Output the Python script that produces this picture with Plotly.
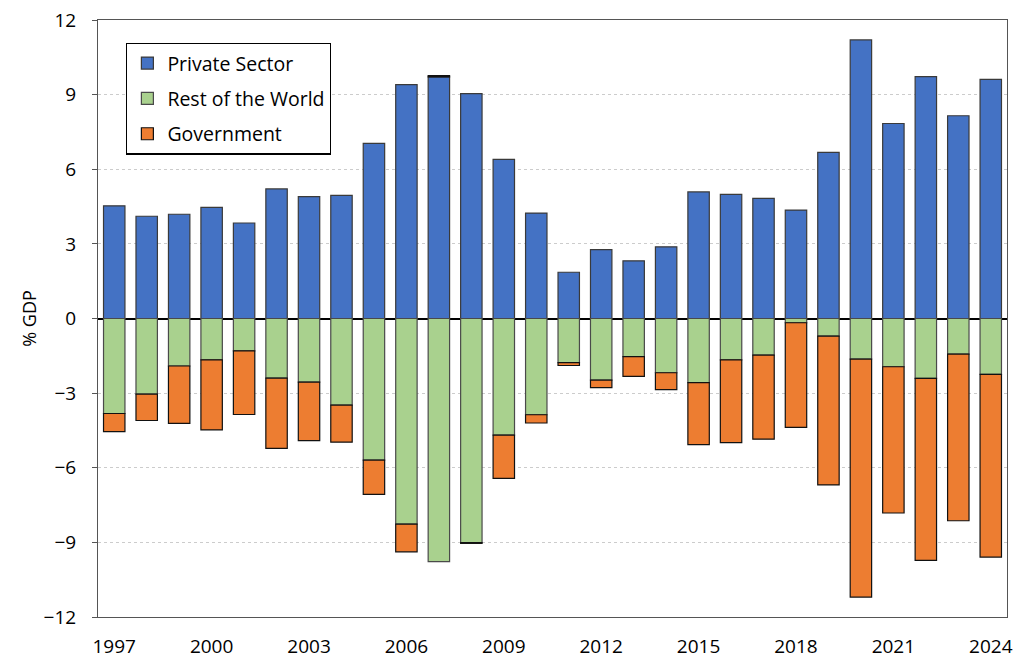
import plotly.graph_objects as go

years = list(range(1997, 2025))
private_sector = [4.53, 4.11, 4.19, 4.47, 3.84, 5.21, 4.90, 4.95, 7.04, 9.40,
                  9.71, 9.04, 6.40, 4.24, 1.86, 2.77, 2.32, 2.88, 5.09, 4.99,
                  4.83, 4.36, 6.68, 11.20, 7.84, 9.72, 8.15, 9.61]
rest_of_world = [-3.82, -3.04, -1.91, -1.66, -1.30, -2.40, -2.56, -3.48, -5.69, -8.27,
                 -9.77, -9.01, -4.69, -3.87, -1.77, -2.48, -1.53, -2.18, -2.58, -1.66,
                 -1.47, -0.17, -0.71, -1.63, -1.94, -2.41, -1.43, -2.25]
government = [-0.73, -1.06, -2.31, -2.82, -2.56, -2.82, -2.35, -1.49, -1.38, -1.11,
              0.05, -0.03, -1.74, -0.33, -0.12, -0.30, -0.80, -0.68, -2.49, -3.33,
              -3.38, -4.21, -5.98, -9.57, -5.88, -7.31, -6.70, -7.34]
tick_years = list(range(1997, 2025, 3))
y_ticks = list(range(-12, 13, 3))

FONT = "Open Sans"

fig = go.Figure()
series = [("Private Sector", private_sector, "#4472C4", "#3a3a3a"),
          ("Rest of the World", rest_of_world, "#A9D18E", "#4a4a4a"),
          ("Government", government, "#ED7D31", "#111111")]
for name, vals, col, lc in series:
    fig.add_trace(go.Bar(x=years, y=vals, name=name, legendgroup=name,
                         marker=dict(color=col, line=dict(color=lc, width=1.2))))

fig.update_layout(
    width=1024, height=668,
    barmode="relative", bargap=0.34,
    plot_bgcolor="white", paper_bgcolor="white",
    margin=dict(l=90, r=25, t=12, b=59),
    font=dict(family=FONT, size=19, color="black"),
    showlegend=True,
    legend=dict(x=0.031, y=0.962, xanchor="left", yanchor="top",
                bordercolor="black", borderwidth=1.2, bgcolor="white",
                font=dict(size=19.5), tracegroupgap=7, traceorder="grouped",
                itemwidth=30),
    xaxis=dict(range=[1996.5, 2024.5], tickvals=tick_years,
               ticktext=[str(t) for t in tick_years],
               showgrid=False, ticks="outside", ticklen=12,
               tickcolor="rgba(0,0,0,0)", automargin=False,
               ticklabeloverflow="allow",
               showline=True, linecolor="#555555",
               linewidth=1, mirror=True, zeroline=False,
               tickfont=dict(size=19)),
    yaxis=dict(range=[-12, 12], tickvals=y_ticks, ticks="outside", ticklen=5,
               tickcolor="#555555", ticklabelstandoff=12, automargin=False,
               ticklabeloverflow="allow",
               showgrid=True, gridcolor="#cccccc", griddash="dot", gridwidth=1,
               zeroline=True, zerolinecolor="black", zerolinewidth=1.5,
               showline=True, linecolor="#555555", linewidth=1, mirror=True,
               title=dict(text="% GDP", font=dict(size=18), standoff=2),
               tickfont=dict(size=19)),
)

fig.write_html("out.html")
